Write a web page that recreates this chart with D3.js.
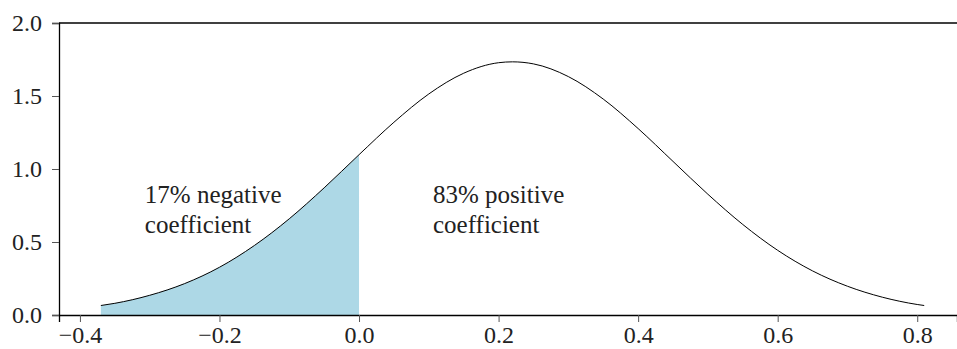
<!DOCTYPE html>
<html>
<head>
<meta charset="utf-8">
<script src="https://cdn.jsdelivr.net/npm/d3@7"></script>
<style>
  body { margin: 0; background: #fff; }
  svg { display: block; }
  text { font-family: "Liberation Serif", "Times New Roman", serif; fill: #222; }
</style>
</head>
<body>
<svg id="chart"></svg>
<script>
// density curve
const xs = [-0.37, -0.35, -0.30, -0.25, -0.20, -0.15, -0.10, -0.05, 0.00, 0.05, 0.10, 0.15, 0.20, 0.22,
            0.25, 0.30, 0.35, 0.40, 0.45, 0.50, 0.55, 0.60, 0.65, 0.70, 0.75, 0.80, 0.81];
const ys = [0.065, 0.080, 0.135, 0.215, 0.327, 0.476, 0.659, 0.871, 1.098, 1.320, 1.514, 1.656, 1.728, 1.734,
            1.720, 1.633, 1.479, 1.277, 1.052, 0.827, 0.620, 0.443, 0.302, 0.197, 0.122, 0.072, 0.065];
const xTicks = [-0.4, -0.2, 0.0, 0.2, 0.4, 0.6, 0.8];
const yTicks = [0.0, 0.5, 1.0, 1.5, 2.0];
const labels = [
  { x: -0.307, lines: ['17% negative', 'coefficient'] },
  { x: 0.106, lines: ['83% positive', 'coefficient'] }
];

const W = 957, H = 349;
const margin = { top: 23, right: 0, bottom: 34, left: 59 };

const svg = d3.select('#chart').attr('width', W).attr('height', H);

// x = 0 sits at 359px, 697.5px per unit
const x = d3.scaleLinear().domain([-0.43, 0.857]).range([margin.left, W]);
const y = d3.scaleLinear().domain([0, 2]).range([H - margin.bottom, margin.top]);

const pts = xs.map((v, i) => [v, ys[i]]);
const neg = pts.filter(d => d[0] <= 0);

// shaded negative part
svg.append('path')
  .datum(neg)
  .attr('fill', '#add8e6')
  .attr('d', d3.area().x(d => x(d[0])).y0(y(0)).y1(d => y(d[1])).curve(d3.curveMonotoneX));

svg.append('path')
  .datum(pts)
  .attr('fill', 'none')
  .attr('stroke', '#000')
  .attr('stroke-width', 1)
  .attr('d', d3.line().x(d => x(d[0])).y(d => y(d[1])).curve(d3.curveMonotoneX));

// axes
const xAxis = svg.append('g')
  .attr('transform', `translate(0,${y(0)})`)
  .call(d3.axisBottom(x).tickValues(xTicks).tickSize(7).tickPadding(4)
    .tickFormat(d => d3.format('.1f')(d).replace('-', '\u2212')));

const yAxis = svg.append('g')
  .attr('transform', `translate(${margin.left},0)`)
  .call(d3.axisLeft(y).tickValues(yTicks).tickSize(7).tickPadding(10).tickFormat(d3.format('.1f')));

[xAxis, yAxis].forEach(a => {
  a.attr('font-family', null).attr('font-size', 24);
  a.select('.domain').attr('stroke', '#000').attr('stroke-width', 1.3);
  a.selectAll('.tick line').attr('stroke', '#555').attr('stroke-width', 1);
  a.selectAll('.tick text').attr('fill', '#222');
});

// top spine
svg.append('line')
  .attr('x1', margin.left).attr('x2', W)
  .attr('y1', y(2)).attr('y2', y(2))
  .attr('stroke', '#000').attr('stroke-width', 1.3);

labels.forEach(l => {
  const t = svg.append('text')
    .attr('x', x(l.x)).attr('y', y(0.767))
    .attr('font-size', 25);
  l.lines.forEach((s, i) => {
    t.append('tspan').attr('x', x(l.x)).attr('dy', i === 0 ? 0 : 30).text(s);
  });
});
</script>
</body>
</html>
